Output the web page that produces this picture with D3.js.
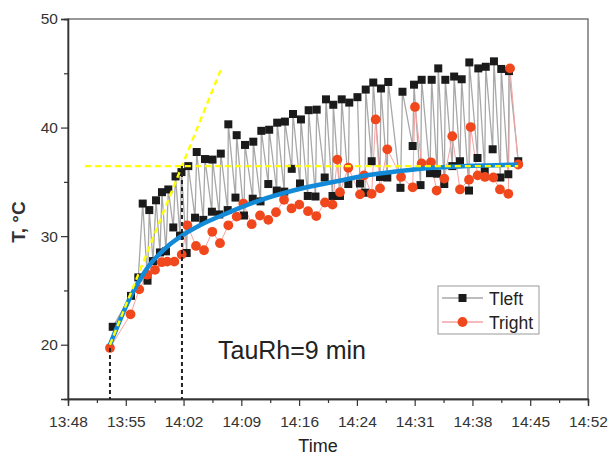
<!DOCTYPE html>
<html>
<head>
<meta charset="utf-8">
<script src="https://cdn.jsdelivr.net/npm/d3@7"></script>
<style>
  body { margin: 0; background: #fff; }
  svg { display: block; font-family: "Liberation Sans", Arial, sans-serif; }
</style>
</head>
<body>
<svg id="chart" width="608" height="455"></svg>
<script>
// time is minutes after 13:48
var xTickMin = [0, 7.2, 14.4, 21.6, 28.8, 36, 43.2, 50.4, 57.6, 64.8]
var xTickLabels = ["13:48", "13:55", "14:02", "14:09", "14:16", "14:24", "14:31", "14:38", "14:45", "14:52"]
var yTicks = [20, 30, 40, 50]

var leftMin = [5.57, 7.85, 8.76, 9.31, 9.91, 10.13, 10.59, 10.97, 11.46, 11.71, 12.21, 12.50, 13.12, 13.40, 13.96,
  14.14, 14.79, 14.99, 15.83, 16.04, 16.86, 17.07, 17.93, 18.01, 18.85, 19.04, 19.90, 19.98, 20.87, 21.02,
  21.93, 22.06, 23.02, 23.09, 23.99, 24.09, 24.96, 25.07, 26.01, 26.07, 26.95, 27.03, 27.88, 28.04, 28.91,
  29.03, 29.88, 29.99, 30.84, 30.99, 31.99, 32.15, 32.96, 33.06, 33.89, 34.11, 34.93, 35.05, 36.07, 36.39,
  37.01, 37.10, 37.84, 38.04, 38.88, 39.00, 39.79, 39.91, 41.43, 41.68, 42.95, 43.12, 43.93, 44.07, 45.11,
  45.32, 46.01, 46.14, 46.89, 47.02, 47.89, 48.12, 48.85, 49.06, 49.97, 50.01, 51.03, 51.13, 51.93, 52.06,
  52.92, 53.08, 53.88, 53.99, 54.87, 54.95, 56.11]
var leftT = [21.65, 24.5, 26.2, 33.0, 25.9, 32.4, 27.7, 33.3, 28.5, 34.05, 28.6, 34.3, 30.8, 35.5, 30.05,
  35.9, 28.45, 36.45, 31.7, 37.75, 31.5, 37.1, 32.25, 37.05, 32.0, 37.6, 32.4, 40.3, 33.55, 39.3,
  31.9, 38.4, 33.45, 38.7, 33.2, 39.7, 34.8, 39.8, 34.2, 40.45, 34.1, 40.55, 36.2, 41.25, 34.85,
  40.75, 33.7, 41.6, 33.65, 41.65, 35.4, 42.6, 33.7, 42.1, 33.7, 42.6, 34.8, 42.3, 42.8, 34.85,
  34.0, 43.5, 36.9, 44.15, 35.45, 43.6, 35.4, 44.2, 34.45, 43.3, 38.3, 43.95, 34.7, 44.4, 35.8,
  44.4, 35.75, 45.45, 34.8, 44.4, 36.45, 44.7, 36.9, 44.45, 34.2, 46.0, 37.2, 45.45, 36.05, 45.6,
  38.0, 46.1, 35.4, 45.4, 35.7, 45.2, 36.9]

var rightMin = [5.23, 7.79, 8.88, 9.88, 10.84, 11.68, 12.37, 13.25, 14.17, 14.87, 15.95, 16.95, 17.98, 18.94,
  19.98, 21.02, 21.85, 22.89, 23.93, 24.96, 25.92, 26.92, 27.85, 28.82, 29.91, 30.94, 32.02, 32.96, 33.56,
  33.89, 34.93, 36.39, 36.89, 37.84, 38.34, 38.88, 39.79, 41.50, 42.95, 43.24, 44.07, 45.23, 45.94, 46.89,
  47.89, 48.85, 49.97, 50.18, 51.05, 51.96, 53.00, 53.83, 54.87, 55.08, 56.11]
var rightT = [19.7, 22.8, 25.1, 26.45, 26.9, 27.6, 27.65, 27.65, 28.3, 31.0, 29.1, 28.7, 30.4, 29.35,
  31.0, 31.8, 33.0, 31.1, 31.9, 31.5, 32.2, 33.35, 32.55, 32.9, 32.3, 31.85, 33.1, 32.9, 37.05,
  34.05, 36.3, 33.85, 35.6, 33.9, 40.75, 34.4, 38.0, 35.45, 34.5, 41.9, 36.7, 36.8, 34.2, 35.3,
  39.2, 34.3, 35.2, 40.05, 35.6, 35.45, 35.4, 34.3, 33.9, 45.45, 36.6]

// fitted exponential curve
var fitMin = [5.23, 6.5, 7.85, 8.97, 10.22, 11.46, 12.71, 14.21, 16.45, 19.78, 23.93, 28.08, 33.48, 37.22, 41.37, 45.48, 49.68, 56.07]
var fitT = [20.0, 22.3, 24.5, 26.0, 27.4, 28.4, 29.25, 30.05, 31.0, 32.1, 33.3, 34.2, 35.05, 35.6, 36.0, 36.3, 36.45, 36.6]

// construction lines for tau
var tStart = 5.23, tTau = 14.2, tTanEnd = 19.19
var tStartT = 19.7, tPlateau = 36.45, tTanEndT = 45.6
var plateauFrom = 2.1, plateauTo = 56.1

var svg = d3.select("#chart")
var margin = { left: 68, right: 20, top: 19, bottom: 56 }
var width = 608 - margin.left - margin.right
var height = 455 - margin.top - margin.bottom

var x = d3.scaleLinear().domain([0, 64.8]).range([0, width])
var y = d3.scaleLinear().domain([15, 50]).range([height, 0])

var g = svg.append("g").attr("transform", "translate(" + margin.left + "," + margin.top + ")")

// frame
g.append("rect").attr("width", width).attr("height", height)
  .attr("fill", "none").attr("stroke", "#555").attr("stroke-width", 1.2)

// axes
var xAxis = g.append("g").attr("transform", "translate(0," + height + ")")
  .call(d3.axisBottom(x).tickValues(xTickMin).tickSize(7)
    .tickFormat(function (d, i) { return xTickLabels[i] }))
g.append("g").attr("transform", "translate(0," + height + ")")
  .call(d3.axisBottom(x).tickValues(xTickMin.slice(1).map(function (d) { return d - 3.6 })).tickSize(4).tickFormat(""))
g.append("g")
  .call(d3.axisLeft(y).tickValues(yTicks).tickSize(7))
g.append("g")
  .call(d3.axisLeft(y).tickValues([25, 35, 45]).tickSize(4).tickFormat(""))

g.selectAll(".domain").attr("stroke", "#333").attr("stroke-width", 1.3)
g.selectAll(".tick line").attr("stroke", "#333").attr("stroke-width", 1.2)
g.selectAll(".tick text").attr("font-size", "15.5px").attr("fill", "#333")
  .attr("font-family", "Liberation Sans, Arial, sans-serif")
xAxis.selectAll(".tick text").attr("dy", "1.15em")

// axis titles
svg.append("text").attr("x", margin.left + width / 2 - 10).attr("y", 452)
  .attr("text-anchor", "middle").attr("font-size", "18px").attr("fill", "#222").text("Time")
svg.append("text").attr("transform", "translate(25,222) rotate(-90)")
  .attr("text-anchor", "middle").attr("font-size", "19px").attr("font-weight", "bold")
  .attr("fill", "#333").text("T, °C")

var leftData = leftMin.map(function (d, i) { return { t: d, v: leftT[i] } })
var rightData = rightMin.map(function (d, i) { return { t: d, v: rightT[i] } })
var fitData = fitMin.map(function (d, i) { return { t: d, v: fitT[i] } })

var line = d3.line().x(function (d) { return x(d.t) }).y(function (d) { return y(d.v) })

g.append("path").datum(leftData).attr("d", line)
  .attr("fill", "none").attr("stroke", "#a8a8a8").attr("stroke-width", 1.3)
g.append("path").datum(rightData).attr("d", line)
  .attr("fill", "none").attr("stroke", "#f5a3a3").attr("stroke-width", 1)

g.append("g").selectAll("rect").data(leftData).enter().append("rect")
  .attr("x", function (d) { return x(d.t) - 4 })
  .attr("y", function (d) { return y(d.v) - 4 })
  .attr("width", 8).attr("height", 8).attr("fill", "#1b1b1b")
g.append("g").selectAll("circle").data(rightData).enter().append("circle")
  .attr("cx", function (d) { return x(d.t) })
  .attr("cy", function (d) { return y(d.v) })
  .attr("r", 4.9).attr("fill", "#f0481c")

// fit curve
g.append("path").datum(fitData).attr("d", line.curve(d3.curveMonotoneX))
  .attr("fill", "none").attr("stroke", "#138ad8").attr("stroke-width", 4.5)
line.curve(d3.curveLinear)

// yellow dashed construction lines
g.append("line")
  .attr("x1", x(plateauFrom)).attr("x2", x(plateauTo))
  .attr("y1", y(tPlateau)).attr("y2", y(tPlateau))
  .attr("stroke", "#ffff00").attr("stroke-width", 2.4).attr("stroke-dasharray", "6,4")
g.append("line")
  .attr("x1", x(tStart)).attr("y1", y(20))
  .attr("x2", x(tTanEnd)).attr("y2", y(tTanEndT))
  .attr("stroke", "#ffff00").attr("stroke-width", 2.4).attr("stroke-dasharray", "6,4")

// black dashed verticals
g.append("line")
  .attr("x1", x(tStart)).attr("x2", x(tStart))
  .attr("y1", y(tStartT)).attr("y2", height)
  .attr("stroke", "#222").attr("stroke-width", 2).attr("stroke-dasharray", "4,3")
g.append("line")
  .attr("x1", x(tTau)).attr("x2", x(tTau))
  .attr("y1", y(tPlateau)).attr("y2", height)
  .attr("stroke", "#222").attr("stroke-width", 2).attr("stroke-dasharray", "4,3")

// annotation
svg.append("text").attr("x", 218).attr("y", 359)
  .attr("font-size", "25px").attr("fill", "#222").text("TauRh=9 min")

// legend
var lg = svg.append("g").attr("transform", "translate(438,286)")
lg.append("rect").attr("width", 101).attr("height", 48)
  .attr("fill", "#fff").attr("stroke", "#999").attr("stroke-width", 1)
lg.append("line").attr("x1", 4).attr("x2", 45).attr("y1", 12).attr("y2", 12)
  .attr("stroke", "#a8a8a8").attr("stroke-width", 1.3)
lg.append("rect").attr("x", 20.5).attr("y", 8).attr("width", 8).attr("height", 8).attr("fill", "#1b1b1b")
lg.append("text").attr("x", 51).attr("y", 18.5).attr("font-size", "17.5px").attr("fill", "#222").text("Tleft")
lg.append("line").attr("x1", 4).attr("x2", 45).attr("y1", 36).attr("y2", 36)
  .attr("stroke", "#f5a3a3").attr("stroke-width", 1.3)
lg.append("circle").attr("cx", 24.5).attr("cy", 36).attr("r", 4.9).attr("fill", "#f0481c")
lg.append("text").attr("x", 51).attr("y", 42.5).attr("font-size", "17.5px").attr("fill", "#222").text("Tright")
</script>
</body>
</html>
